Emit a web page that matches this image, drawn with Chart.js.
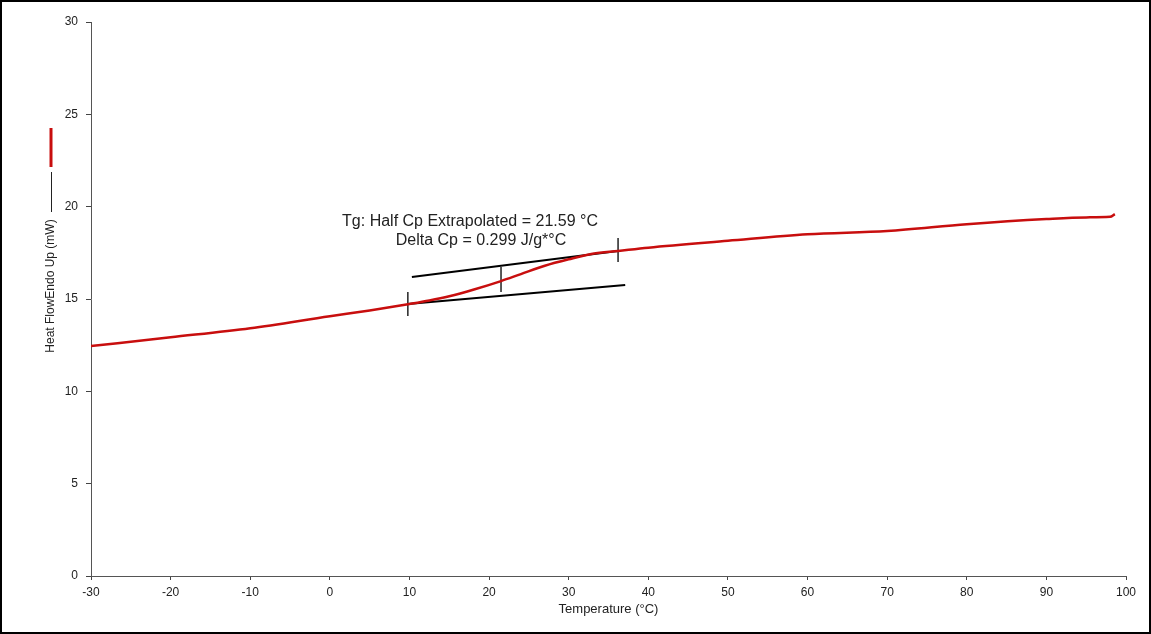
<!DOCTYPE html>
<html>
<head>
<meta charset="utf-8">
<script src="https://cdn.jsdelivr.net/npm/chart.js@4/dist/chart.umd.min.js"></script>
<style>
  html, body { margin: 0; padding: 0; background: #fff; }
  #wrap { position: relative; width: 1151px; height: 634px; }
  #frame { position: absolute; inset: 0; border: 2px solid #000; pointer-events: none; }
  canvas { position: absolute; left: 0; top: 0; }
</style>
</head>
<body>
<div id="wrap">
  <canvas id="dsc" width="1151" height="634"></canvas>
  <div id="frame"></div>
</div>
<script>
// ---------- data ----------
const tempC = [-30, -20, -10, 0, 5, 10, 12.5, 15, 18, 21.5, 24, 27, 30, 33, 36.2, 40, 50, 60, 70, 80, 90, 95, 98, 98.6];
const heatFlow = [12.45, 12.93, 13.42, 14.07, 14.38, 14.73, 14.92, 15.15, 15.5, 15.97, 16.35, 16.8, 17.15, 17.45, 17.6, 17.78, 18.15, 18.5, 18.68, 19.05, 19.33, 19.42, 19.45, 19.6];

// extrapolated baselines
const lowerBaseX = [9.8, 37.1];
const lowerBaseY = [14.73, 15.76];
const upperBaseX = [10.3, 36.2];
const upperBaseY = [16.19, 17.6];

// onset / half Cp / end markers
const markerX = [9.8, 21.5, 36.2];
const markerLow = [14.08, 15.38, 17.0];
const markerHigh = [15.38, 16.73, 18.3];

const yTicks = [0, 5, 10, 15, 20, 25, 30];
const xTicks = [-30, -20, -10, 0, 10, 20, 30, 40, 50, 60, 70, 80, 90, 100];

const noteLines = ["Tg: Half Cp Extrapolated = 21.59 °C", "Delta Cp = 0.299 J/g*°C"];

// ---------- helpers ----------
const FONT = '"Liberation Sans", Arial, sans-serif';
const pts = (xs, ys) => xs.map((x, i) => ({ x, y: ys[i] }));

const blackLine = (data, width) => ({
  data,
  borderColor: "#000",
  borderWidth: width,
  pointRadius: 0,
  fill: false,
  tension: 0,
});

const datasets = [
  {
    label: "Heat Flow",
    data: pts(tempC, heatFlow),
    borderColor: "rgb(200,14,14)",
    borderWidth: 2.5,
    pointRadius: 0,
    tension: 0.3,
    cubicInterpolationMode: "monotone",
  },
  blackLine(pts(lowerBaseX, lowerBaseY), 2),
  blackLine(pts(upperBaseX, upperBaseY), 2),
];
markerX.forEach((x, i) => {
  datasets.push(blackLine([{ x, y: markerLow[i] }, { x, y: markerHigh[i] }], 1.3));
});

// y title with the little line samples, and the Tg note
const decorations = {
  id: "decorations",
  afterDraw(chart) {
    const { ctx, chartArea } = chart;
    ctx.save();
    // y axis title (rotated)
    ctx.translate(51, 286);
    ctx.rotate(-Math.PI / 2);
    ctx.font = "12px " + FONT;
    ctx.fillStyle = "#222";
    ctx.textAlign = "center";
    ctx.textBaseline = "middle";
    ctx.fillText("Heat FlowEndo Up (mW)", 0, 0);
    ctx.restore();

    ctx.save();
    ctx.strokeStyle = "#222";
    ctx.lineWidth = 1;
    ctx.beginPath();
    ctx.moveTo(51.5, 172);
    ctx.lineTo(51.5, 212);
    ctx.stroke();
    ctx.strokeStyle = "rgb(200,14,14)";
    ctx.lineWidth = 3;
    ctx.beginPath();
    ctx.moveTo(51, 128);
    ctx.lineTo(51, 167);
    ctx.stroke();

    // annotation
    ctx.font = "16px " + FONT;
    ctx.fillStyle = "#222";
    ctx.textAlign = "center";
    ctx.textBaseline = "middle";
    ctx.fillText(noteLines[0], chartArea.left + 379, 222);
    ctx.fillText(noteLines[1], chartArea.left + 390, 241);
    ctx.restore();
  },
};

new Chart(document.getElementById("dsc"), {
  type: "line",
  data: { datasets },
  options: {
    responsive: false,
    animation: false,
    layout: { padding: { left: 0, top: 22, right: 25, bottom: 13 } },
    plugins: { legend: { display: false }, tooltip: { enabled: false } },
    scales: {
      x: {
        type: "linear",
        min: xTicks[0],
        max: xTicks[xTicks.length - 1],
        afterBuildTicks: (s) => { s.ticks = xTicks.map((v) => ({ value: v })); },
        afterFit: (s) => { s.height = 45; },
        grid: { drawOnChartArea: false, drawTicks: true, tickLength: 4, color: "#444" },
        border: { display: true, color: "#555", width: 1 },
        ticks: { color: "#222", font: { size: 12, family: FONT }, padding: 5, maxRotation: 0 },
        title: { display: true, text: "Temperature (°C)", color: "#222", font: { size: 13, family: FONT }, padding: { top: 0 } },
      },
      y: {
        type: "linear",
        min: yTicks[0],
        max: yTicks[yTicks.length - 1],
        afterBuildTicks: (s) => { s.ticks = yTicks.map((v) => ({ value: v })); },
        afterFit: (s) => { s.width = 91; },
        grid: { drawOnChartArea: false, drawTicks: true, tickLength: 5, color: "#444" },
        border: { display: true, color: "#555", width: 1 },
        ticks: { color: "#222", font: { size: 12, family: FONT }, padding: 8 },
      },
    },
  },
  plugins: [decorations],
});
</script>
</body>
</html>
